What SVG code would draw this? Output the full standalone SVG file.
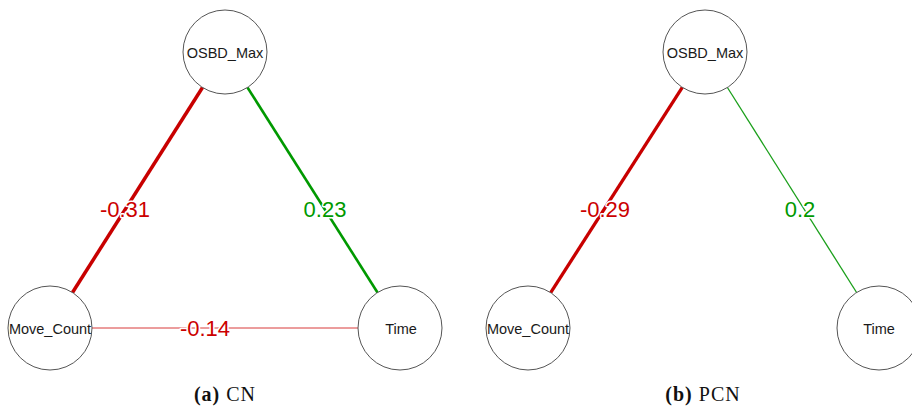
<svg xmlns="http://www.w3.org/2000/svg" width="912" height="412" viewBox="0 0 912 412">
<style>
.node circle{fill:#fff;stroke:#555;stroke-width:1}
.node text{font-family:"Liberation Sans",Arial,sans-serif;font-size:14.5px;fill:#1a1a1a;text-anchor:middle;dominant-baseline:central}
.lbl{font-family:"Liberation Sans",Arial,sans-serif;font-size:22px;text-anchor:middle;dominant-baseline:central;paint-order:stroke;stroke:#fff;stroke-width:3px;stroke-linejoin:round}
.neg{fill:#CC0000}
.pos{fill:#009900}
.cap{font-family:"Liberation Serif","Times New Roman",serif;font-size:20px;letter-spacing:1px;text-anchor:middle;fill:#111}
</style>
<rect width="912" height="412" fill="#fff"/>
<g id="connectors" fill="none">
  <line x1="202.5" y1="87.5" x2="72.5" y2="292.5" stroke="#C80000" stroke-width="3.5"/>
  <line x1="247.5" y1="87.5" x2="377.5" y2="292.5" stroke="#009900" stroke-width="2.6"/>
  <line x1="92" y1="328" x2="358" y2="328" stroke="#D83A3A" stroke-width="1"/>
  <line x1="682.3" y1="87.4" x2="550.7" y2="292.6" stroke="#C80000" stroke-width="3.3"/>
  <line x1="727.4" y1="87.5" x2="856.6" y2="292.5" stroke="#1A9F1A" stroke-width="1.3"/>
  <text class="lbl neg" x="125" y="209">-0.31</text>
  <text class="lbl pos" x="325" y="209">0.23</text>
  <text class="lbl neg" x="205" y="328">-0.14</text>
  <text class="lbl neg" x="605" y="209">-0.29</text>
  <text class="lbl pos" x="800" y="209">0.2</text>
</g>
<g id="a_osbd" class="node"><circle cx="225" cy="52" r="42"/><text x="225" y="53">OSBD_Max</text></g>
<g id="a_move" class="node"><circle cx="50" cy="328" r="42"/><text x="50" y="329">Move_Count</text></g>
<g id="a_time" class="node"><circle cx="400" cy="328" r="42"/><text x="401" y="329">Time</text></g>
<g id="b_osbd" class="node"><circle cx="705" cy="52" r="42"/><text x="705" y="53">OSBD_Max</text></g>
<g id="b_move" class="node"><circle cx="528" cy="328" r="42"/><text x="528" y="329">Move_Count</text></g>
<g id="b_time" class="node"><circle cx="879" cy="328" r="42"/><text x="879" y="329">Time</text></g>
<text class="cap" x="225" y="401"><tspan font-weight="bold">(a)</tspan> CN</text>
<text class="cap" x="703" y="401"><tspan font-weight="bold">(b)</tspan> PCN</text>
</svg>
